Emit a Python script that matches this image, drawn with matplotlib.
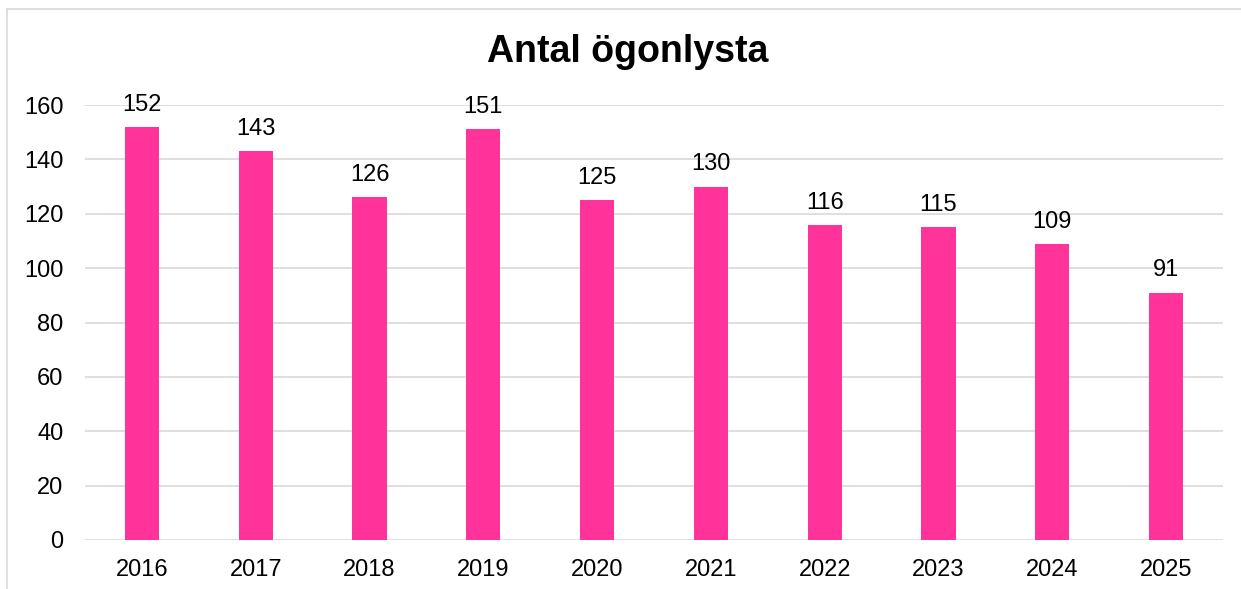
import matplotlib.pyplot as plt
from matplotlib.lines import Line2D

years = ['2016', '2017', '2018', '2019', '2020', '2021', '2022', '2023', '2024', '2025']
counts = [152, 143, 126, 151, 125, 130, 116, 115, 109, 91]

plt.rcParams['font.family'] = ['Liberation Sans', 'DejaVu Sans']

W, H = 1241, 589
fig = plt.figure(figsize=(W / 100, H / 100), dpi=100)
ax = fig.add_axes([85 / W, (H - 540) / H, (1223 - 85) / W, (540 - 105) / H])

x = range(len(years))
bars = ax.bar(x, counts, width=0.3, color='#FF3399', zorder=3)
ax.bar_label(bars, labels=[str(v) for v in counts], padding=8, fontsize=17, color='#000000')

ax.set_xlim(-0.5, len(years) - 0.5)
ax.set_ylim(0, 160)
ax.set_yticks(range(0, 161, 20))
ax.set_xticks(list(x))
ax.set_xticklabels(years)
ax.tick_params(axis='both', length=0, labelsize=17, colors='#000000')
ax.tick_params(axis='x', pad=13.5)
ax.tick_params(axis='y', pad=15.5)
ax.grid(axis='y', color='#D9D9D9', linewidth=1.2, zorder=0)
for s in ax.spines.values():
    s.set_visible(False)

fig.text(628 / W, 1 - 52 / H, 'Antal ögonlysta', ha='center', va='center',
         fontsize=27, fontweight='bold')

# outer chart border (top and left visible)
fig.add_artist(Line2D([7 / W, 1], [1 - 9 / H, 1 - 9 / H], transform=fig.transFigure,
                      color='#D9D9D9', linewidth=1.2))
fig.add_artist(Line2D([7 / W, 7 / W], [0, 1 - 9 / H], transform=fig.transFigure,
                      color='#D9D9D9', linewidth=1.2))

fig.savefig('out.png', dpi=100)
